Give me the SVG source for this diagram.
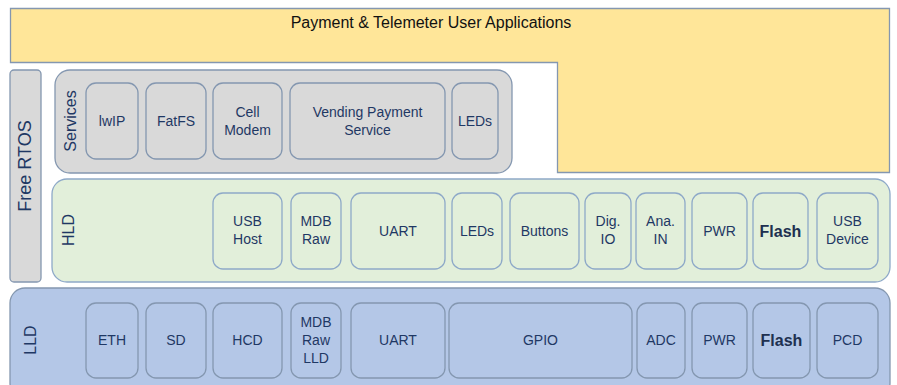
<svg xmlns="http://www.w3.org/2000/svg" width="897" height="385" viewBox="0 0 897 385">
<style>
text{font-family:"Liberation Sans",Arial,sans-serif;fill:#1F3864;text-anchor:middle;font-size:14px}
.lbl{font-size:16px}
.title{font-size:16px;fill:#111}
.rtos{font-size:18px}
.flash{font-size:16px;font-weight:bold;fill:#203050}
.svc{fill:#D9D9D9;stroke:#8497B0;stroke-width:1.3}
.hld{fill:#E2EFDA;stroke:#8EA9C8;stroke-width:1.3}
.lld{fill:#B4C7E7;stroke:#8497B0;stroke-width:1.3}
</style>
<g id="apps">
<path d="M10.5,8.5 H889.5 V172.5 H557.5 V62.5 H10.5 Z" fill="#FFE699" stroke="#8497B0" stroke-width="1.3"/>
<text x="431" y="28" class="title">Payment &amp; Telemeter User Applications</text>
</g>
<g id="rtos">
<rect x="10" y="70" width="31" height="212" rx="4" class="svc"/>
<text class="rtos" transform="translate(31,166) rotate(-90)">Free RTOS</text>
</g>
<g id="services">
<rect x="55" y="70" width="457" height="103" rx="15" class="svc"/>
<text class="lbl" transform="translate(76,121) rotate(-90)">Services</text>
<g id="s-lwip"><rect x="86" y="83" width="52" height="76" rx="10" class="svc"/><text x="112" y="126">lwIP</text></g>
<g id="s-fatfs"><rect x="146" y="83" width="60" height="76" rx="10" class="svc"/><text x="176" y="126">FatFS</text></g>
<g id="s-cell"><rect x="213" y="83" width="69" height="76" rx="10" class="svc"/><text x="247.5" y="117">Cell</text><text x="247.5" y="135">Modem</text></g>
<g id="s-vend"><rect x="290" y="83" width="155" height="76" rx="10" class="svc"/><text x="367.5" y="117">Vending Payment</text><text x="367.5" y="135">Service</text></g>
<g id="s-leds"><rect x="452" y="83" width="46" height="76" rx="10" class="svc"/><text x="475" y="126">LEDs</text></g>
</g>
<g id="hld">
<rect x="52" y="179" width="838" height="103" rx="15" class="hld"/>
<text class="lbl" transform="translate(74,230) rotate(-90)">HLD</text>
<g id="h-usbhost"><rect x="213" y="193" width="69" height="76" rx="10" class="hld"/><text x="247.5" y="226">USB</text><text x="247.5" y="244">Host</text></g>
<g id="h-mdb"><rect x="291" y="193" width="50" height="76" rx="10" class="hld"/><text x="316" y="226">MDB</text><text x="316" y="244">Raw</text></g>
<g id="h-uart"><rect x="351" y="193" width="94" height="76" rx="10" class="hld"/><text x="398" y="236">UART</text></g>
<g id="h-leds"><rect x="452" y="193" width="50" height="76" rx="10" class="hld"/><text x="477" y="236">LEDs</text></g>
<g id="h-buttons"><rect x="510" y="193" width="69" height="76" rx="10" class="hld"/><text x="544.5" y="236">Buttons</text></g>
<g id="h-dig"><rect x="585" y="193" width="46" height="76" rx="10" class="hld"/><text x="608" y="226">Dig.</text><text x="608" y="244">IO</text></g>
<g id="h-ana"><rect x="636" y="193" width="49" height="76" rx="10" class="hld"/><text x="660.5" y="226">Ana.</text><text x="660.5" y="244">IN</text></g>
<g id="h-pwr"><rect x="692" y="193" width="55" height="76" rx="10" class="hld"/><text x="719.5" y="236">PWR</text></g>
<g id="h-flash"><rect x="753" y="193" width="55" height="76" rx="10" class="hld"/><text x="780.5" y="237" class="flash">Flash</text></g>
<g id="h-usbdev"><rect x="817" y="193" width="61" height="76" rx="10" class="hld"/><text x="847.5" y="226">USB</text><text x="847.5" y="244">Device</text></g>
</g>
<g id="lld">
<rect x="10" y="288" width="880" height="110" rx="15" class="lld"/>
<text class="lbl" transform="translate(36,340) rotate(-90)">LLD</text>
<g id="l-eth"><rect x="86" y="303" width="52" height="75" rx="10" class="lld"/><text x="112" y="345">ETH</text></g>
<g id="l-sd"><rect x="146" y="303" width="60" height="75" rx="10" class="lld"/><text x="176" y="345">SD</text></g>
<g id="l-hcd"><rect x="213" y="303" width="69" height="75" rx="10" class="lld"/><text x="247.5" y="345">HCD</text></g>
<g id="l-mdb"><rect x="291" y="303" width="50" height="75" rx="10" class="lld"/><text x="316" y="327">MDB</text><text x="316" y="345">Raw</text><text x="316" y="363">LLD</text></g>
<g id="l-uart"><rect x="351" y="303" width="94" height="75" rx="10" class="lld"/><text x="398" y="345">UART</text></g>
<g id="l-gpio"><rect x="449" y="303" width="183" height="75" rx="10" class="lld"/><text x="540.5" y="345">GPIO</text></g>
<g id="l-adc"><rect x="637" y="303" width="48" height="75" rx="10" class="lld"/><text x="661" y="345">ADC</text></g>
<g id="l-pwr"><rect x="692" y="303" width="55" height="75" rx="10" class="lld"/><text x="719.5" y="345">PWR</text></g>
<g id="l-flash"><rect x="753" y="303" width="57" height="75" rx="10" class="lld"/><text x="781.5" y="346" class="flash">Flash</text></g>
<g id="l-pcd"><rect x="817" y="303" width="61" height="75" rx="10" class="lld"/><text x="847.5" y="345">PCD</text></g>
</g>
<g id="connectors"/>
</svg>
